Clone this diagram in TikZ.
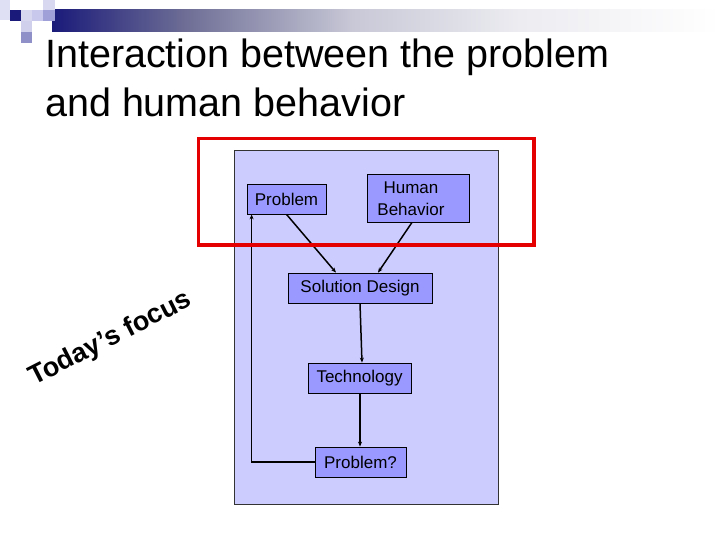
\documentclass[tikz,border=0pt]{standalone}
\usepackage{fontspec}
\setmainfont{Liberation Sans}
\usetikzlibrary{arrows.meta,calc}
\definecolor{navyb}{RGB}{26,26,122}
\definecolor{panel}{RGB}{204,204,255}
\definecolor{boxfill}{RGB}{153,153,255}
\definecolor{hilite}{RGB}{228,0,0}
\pgfdeclarehorizontalshading{barfade}{100bp}{%
  color(0bp)=(navyb); color(25bp)=(navyb);
  color(35bp)=(rgb,255:red,110;green,110;blue,150);
  color(47.5bp)=(rgb,255:red,200;green,200;blue,215);
  color(60bp)=(rgb,255:red,236;green,236;blue,241);
  color(75bp)=(white); color(100bp)=(white)}
\tikzset{
  blk/.style={draw=black, line width=0.8pt, fill=boxfill, inner sep=0pt,
    font=\fontsize{17}{19}\selectfont},
  conn/.style={line width=1.5pt, -{Stealth[length=5pt,width=4pt]}},
  ttl/.style={anchor=base west, inner sep=0pt,
    font=\fontsize{39.5}{48}\selectfont},
  sq/.style={draw=none}
}
\begin{document}
\begin{tikzpicture}[x=1pt,y=-1pt]
\useasboundingbox (0,0) rectangle (720,540);
\fill[white] (0,0) rectangle (720,540);
% decoration
\shade[shading=barfade] (52,10) rectangle (720,32);
\fill[sq, color={rgb,255:red,224;green,224;blue,244}] (0,0) rectangle (10,20);
\fill[sq, color=navyb] (10,10) rectangle (21,21);
\fill[sq, color={rgb,255:red,215;green,215;blue,240}] (21,10) rectangle (32,21);
\fill[sq, color={rgb,255:red,208;green,208;blue,236}] (21,21) rectangle (32,32);
\fill[sq, color={rgb,255:red,200;green,200;blue,236}] (32,10) rectangle (43,21);
\fill[sq, color={rgb,255:red,216;green,216;blue,240}] (43,0) rectangle (55,10);
\fill[sq, color={rgb,255:red,160;green,160;blue,216}] (43,10) rectangle (55,21);
\fill[sq, color={rgb,255:red,144;green,144;blue,200}] (21,32) rectangle (32,43);
% title
\node[ttl] (title1) at (45,68) {Interaction between the problem};
\node[ttl] (title2) at (45,117) {and human behavior};
% panel
\node[draw=black!80, line width=0.8pt, fill=panel, minimum width=264pt, minimum height=354pt, inner sep=0pt] (panel) at (366,327) {};
% boxes
\node[blk, minimum width=79pt, minimum height=30pt] (prob) at (286.5,199) {Problem};
\node[blk, minimum width=102pt, minimum height=48pt] (hb) at (418,198) {};
\node[align=center, inner sep=0pt, font=\fontsize{17}{22}\selectfont] (hbtext) at (411,199) {Human\\Behavior};
\node[blk, minimum width=144pt, minimum height=30pt] (sd) at (360,288) {Solution Design};
\node[blk, minimum width=103pt, minimum height=30pt] (tech) at (359.5,378) {Technology};
\node[blk, minimum width=91pt, minimum height=30pt] (pq) at (360.5,462) {Problem?};
% connectors
\coordinate (sdl) at ($(sd.north)+(-24,0)$);
\coordinate (sdr) at ($(sd.north)+(18,0)$);
\coordinate (hbs) at ($(hb.south)+(-6,0)$);
\coordinate (lp) at ($(prob.south west)+(5,0)$);
\draw[conn] (prob.south) -- (sdl);
\draw[conn] (hbs) -- (sdr);
\draw[conn] (sd.south) -- ($(tech.north)+(2.5,0)$);
\draw[conn] ($(tech.south)+(0.5,0)$) -- ($(pq.north)+(-0.5,0)$);
\draw[conn] (pq.west) -| (lp);
% red frame
\draw[hilite, line width=3.8pt] (198.5,138.5) rectangle (534,245);
% rotated text
\node[anchor=base west, inner sep=0pt, rotate=27, font=\bfseries\fontsize{27}{30}\selectfont] (focus) at (34,386) {Today’s focus};
\end{tikzpicture}
\end{document}
